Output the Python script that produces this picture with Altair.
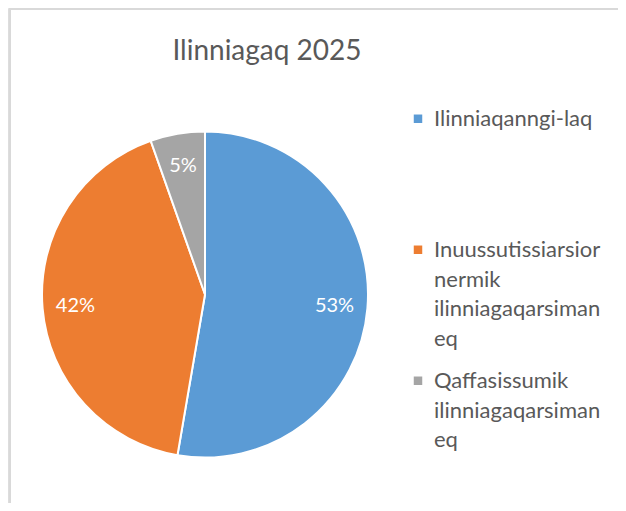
import altair as alt
import pandas as pd

categories = [
    "Ilinniaqanngi-laq",
    "Inuussutissiarsiornermik ilinniagaqarsimaneq",
    "Qaffasissumik ilinniagaqarsimaneq",
]
shares = [52.7, 41.9, 5.4]
colors = ["#5B9BD5", "#ED7D31", "#A5A5A5"]
title_text = "Ilinniagaq 2025"
wrapped_1 = ["Inuussutissiarsior", "nermik", "ilinniagaqarsiman", "eq"]
wrapped_2 = ["Qaffasissumik", "ilinniagaqarsiman", "eq"]

FONT = "Lato"
TEXT = "#595959"

df = pd.DataFrame({"category": categories, "share": shares, "order": list(range(len(categories)))})

def js_list(items):
    return "[" + ",".join("'" + s + "'" for s in items) + "]"

label_expr = (
    f"datum.label == '{categories[1]}' ? {js_list(wrapped_1)} : "
    f"datum.label == '{categories[2]}' ? {js_list(wrapped_2)} : datum.label"
)

CX, CY, R = 197, 286.5, 163

base = alt.Chart(df).encode(
    theta=alt.Theta("share:Q", stack=True),
    order=alt.Order("order:Q"),
    x=alt.value(CX),
    y=alt.value(CY),
)

pie = base.mark_arc(outerRadius=R, stroke="white", strokeWidth=2).encode(
    color=alt.Color(
        "category:N",
        sort=categories,
        scale=alt.Scale(domain=categories, range=colors),
        legend=alt.Legend(
            title=None,
            orient="none",
            legendX=399,
            legendY=90,
            direction="vertical",
            columns=1,
            labelExpr=label_expr,
            labelFont=FONT,
            labelFontSize=22,
            labelColor=TEXT,
            labelLimit=400,
            labelBaseline="top",
            labelOffset=5,
            symbolType="M-1,1.3H1V3.3H-1Z",
            symbolSize=72,
            symbolStrokeWidth=0,
            symbolOpacity=1,
            gridAlign="all",
            rowPadding=10,
            padding=0,
        ),
    )
)

labels = (
    base.transform_joinaggregate(total="sum(share)")
    .transform_calculate(pct="datum.share / datum.total")
    .mark_text(radius=130, fontSize=20, color="white", font=FONT)
    .encode(text=alt.Text("pct:Q", format=".0%"))
)

frame_df = pd.DataFrame({"k": [0]})
border_top = alt.Chart(frame_df).mark_rule(color="#D9D9D9", strokeWidth=2).encode(
    x=alt.value(1), x2=alt.value(610), y=alt.value(1)
)
border_left = alt.Chart(frame_df).mark_rule(color="#D9D9D9", strokeWidth=2).encode(
    x=alt.value(2), y=alt.value(1), y2=alt.value(495)
)

chart = (
    alt.layer(border_top, border_left, pie, labels)
    .properties(
        width=610,
        height=495,
        padding=0,
        autosize=alt.AutoSizeParams(type="none"),
        title=alt.TitleParams(
            title_text,
            font=FONT,
            fontSize=28,
            fontWeight="normal",
            color=TEXT,
            anchor="middle",
            frame="group",
            offset=0,
            baseline="alphabetic",
            dx=-46,
            dy=80,
        ),
    )
    .configure_view(stroke=None)
    .configure(style={"guide-label": {"lineHeight": 29.5}})
)

chart.save("out.html", embed_options={"renderer": "svg", "actions": False})
